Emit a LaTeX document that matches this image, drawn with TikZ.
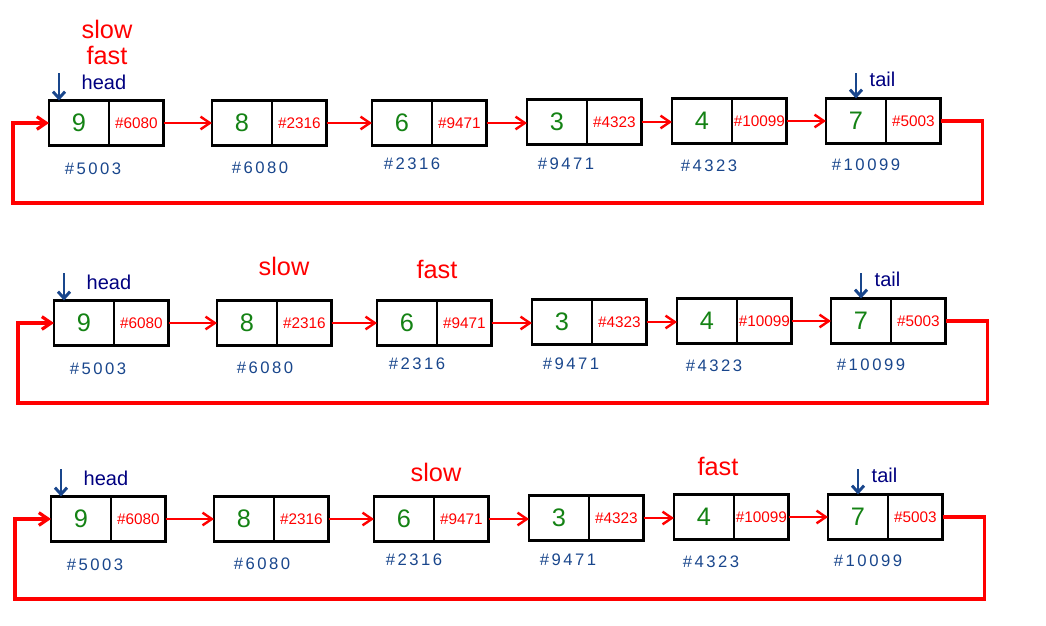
\documentclass[tikz,border=0pt]{standalone}
\usepackage{fontspec}
\setmainfont{Liberation Sans}
\usepackage{xcolor}
\usepackage{tikz}
\usetikzlibrary{arrows.meta,positioning}
\definecolor{valgreen}{RGB}{20,130,20}
\definecolor{addrblue}{RGB}{25,70,140}
\definecolor{ptrnavy}{RGB}{0,0,128}
\definecolor{linkred}{RGB}{255,0,0}

\begin{document}
\begin{tikzpicture}[x=0.75pt,y=-0.75pt,
  node distance=0pt,
  valcell/.style={draw,line width=2pt,minimum width=45pt,minimum height=33.75pt,
    inner sep=0pt,outer sep=0pt,text=valgreen,font=\fontsize{19}{19}\selectfont},
  ptrcell/.style={draw,line width=2pt,minimum width=41pt,minimum height=33.75pt,
    inner sep=0pt,outer sep=0pt,text=linkred,font=\fontsize{11.5}{11.5}\selectfont},
  addr/.style={text=addrblue,font=\fontsize{12.5}{12.5}\selectfont\addfontfeatures{LetterSpace=15}},
  marker/.style={text=linkred,font=\fontsize{19}{19}\selectfont},
  ptrname/.style={text=ptrnavy,font=\fontsize{15}{15}\selectfont},
  link/.style={-{Straight Barb[length=7pt,width=9.5pt]},linkred,line width=1.8pt},
  back/.style={-{Straight Barb[length=7pt,width=9.5pt]},linkred,line width=2.4pt},
  pointer/.style={-{Straight Barb[length=5pt,width=9pt]},addrblue,line width=2.2pt}
]
\useasboundingbox (0,0) rectangle (1046,625);
% three copies of the circular list
\foreach \r/\dx/\dy in {1/0/0,2/5/200,3/2/396}{
\begin{scope}[shift={(\dx,\dy)}]
  \foreach \i/\x/\y/\val/\nxt/\me/\ax/\ay in {
    1/79/123/9/6080/5003/93/169,
    2/242/123/8/2316/6080/260/168,
    3/402/123/6/9471/2316/412/164,
    4/557/122/3/4323/9471/566/164,
    5/702/121/4/10099/4323/709/166,
    6/856/121/7/5003/10099/866/165}{
    \node[valcell] (v\r\i) at (\x,\y) {\val};
    \node[ptrcell,right=of v\r\i] (p\r\i) {\#\nxt};
    \node[addr] (a\r\i) at (\ax,\ay) {\#\me};
  }
  \foreach \i [evaluate=\i as \j using int(\i+1)] in {1,...,5}
    \draw[link] (p\r\i.east) -- (p\r\i.east -| v\r\j.west);
  % tail back to head
  \draw[back] (p\r6.east) -- ++(42,0) |- (13,203) |- (v\r1.west);
  \coordinate (hd\r) at (59,73);
  \coordinate (tl\r) at (856,73);
  \draw[pointer] (hd\r) -- (hd\r |- v\r1.north);
  \draw[pointer] (tl\r) -- (tl\r |- v\r6.north);
  \node[ptrname,anchor=base west] (head\r) at (77,89) {head};
  \node[ptrname,anchor=base west] (tail\r) at (865,86) {tail};
\end{scope}
}
\node[marker,anchor=base] (slow1) at (107,38) {slow};
\node[marker,anchor=base] (fast1) at (107,64) {fast};
\node[marker,anchor=base] (slow2) at (284,275) {slow};
\node[marker,anchor=base] (fast2) at (437,278) {fast};
\node[marker,anchor=base] (slow3) at (436,481) {slow};
\node[marker,anchor=base] (fast3) at (718,475) {fast};
\end{tikzpicture}
\end{document}
